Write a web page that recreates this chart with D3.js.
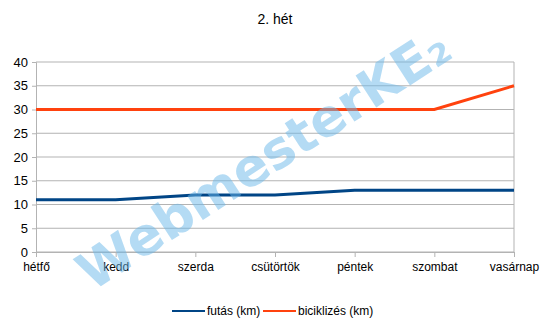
<!DOCTYPE html>
<html>
<head>
<meta charset="utf-8">
<script src="https://cdn.jsdelivr.net/npm/d3@7"></script>
<style>
  body { margin: 0; background: #fff; }
  svg { font-family: "Liberation Sans", Arial, sans-serif; }
</style>
</head>
<body>
<svg id="chart" width="550" height="331"></svg>
<script>
// data
const days = ["hétfő", "kedd", "szerda", "csütörtök", "péntek", "szombat", "vasárnap"];
const futas = [11, 11, 12, 12, 13, 13, 13];
const bicikli = [30, 30, 30, 30, 30, 30, 35];
const yTicks = [0, 5, 10, 15, 20, 25, 30, 35, 40];
const seriesNames = ["futás (km)", "biciklizés (km)"];
const colors = ["#004586", "#ff420e"];

const svg = d3.select("#chart");
const margin = { left: 36, right: 36, top: 62, bottom: 79 };
const width = 550, height = 331;

const x = d3.scalePoint().domain(days).range([margin.left, width - margin.right]);
const y = d3.scaleLinear().domain([0, 40]).range([height - margin.bottom, margin.top]);

// title
svg.append("text")
  .attr("x", 275).attr("y", 24)
  .attr("text-anchor", "middle")
  .attr("font-size", 14)
  .attr("fill", "#000")
  .text("2. hét");

// gridlines
svg.append("g")
  .selectAll("line")
  .data(yTicks)
  .join("line")
  .attr("x1", margin.left).attr("x2", width - margin.right)
  .attr("y1", d => y(d)).attr("y2", d => y(d))
  .attr("stroke", "#b3b3b3");

// right border
svg.append("line")
  .attr("x1", width - margin.right).attr("x2", width - margin.right)
  .attr("y1", y(40)).attr("y2", y(0))
  .attr("stroke", "#b3b3b3");

// y axis
const yAxis = svg.append("g")
  .attr("transform", `translate(${margin.left},0)`)
  .call(d3.axisLeft(y).tickValues(yTicks).tickSize(4).tickPadding(4));
yAxis.select(".domain").attr("stroke", "#b3b3b3");
yAxis.selectAll(".tick line").attr("stroke", "#b3b3b3");
yAxis.selectAll("text").attr("font-size", 13).attr("fill", "#000")
  .attr("font-family", "Liberation Sans, Arial, sans-serif");

// x axis
const xAxis = svg.append("g")
  .attr("transform", `translate(0,${y(0)})`)
  .call(d3.axisBottom(x).tickSize(5).tickPadding(5));
xAxis.select(".domain").attr("stroke", "#b3b3b3");
xAxis.selectAll(".tick line").attr("stroke", "#b3b3b3");
xAxis.selectAll("text").attr("font-size", 12).attr("fill", "#000")
  .attr("font-family", "Liberation Sans, Arial, sans-serif");

// lines
const line = d3.line().x((d, i) => x(days[i])).y(d => y(d));
[futas, bicikli].forEach((s, i) => {
  svg.append("path")
    .datum(s)
    .attr("d", line)
    .attr("fill", "none")
    .attr("stroke", colors[i])
    .attr("stroke-width", 3);
});

// legend
const legend = svg.append("g").attr("transform", "translate(172,311)");
const lx = [0, 91];
seriesNames.forEach((n, i) => {
  legend.append("line")
    .attr("x1", lx[i]).attr("x2", lx[i] + 33)
    .attr("y1", 0).attr("y2", 0)
    .attr("stroke", colors[i]).attr("stroke-width", 2);
  legend.append("text")
    .attr("x", lx[i] + 35).attr("y", 4)
    .attr("font-size", 12)
    .text(n);
});

// watermark
svg.append("text")
  .attr("transform", "translate(92,292) rotate(-33)")
  .attr("font-size", 52)
  .attr("font-weight", "bold")
  .attr("font-family", "DejaVu Sans, sans-serif")
  .attr("fill", "#6ab8ea")
  .attr("fill-opacity", 0.5)
  .text("WebmesterKE₂");
</script>
</body>
</html>
